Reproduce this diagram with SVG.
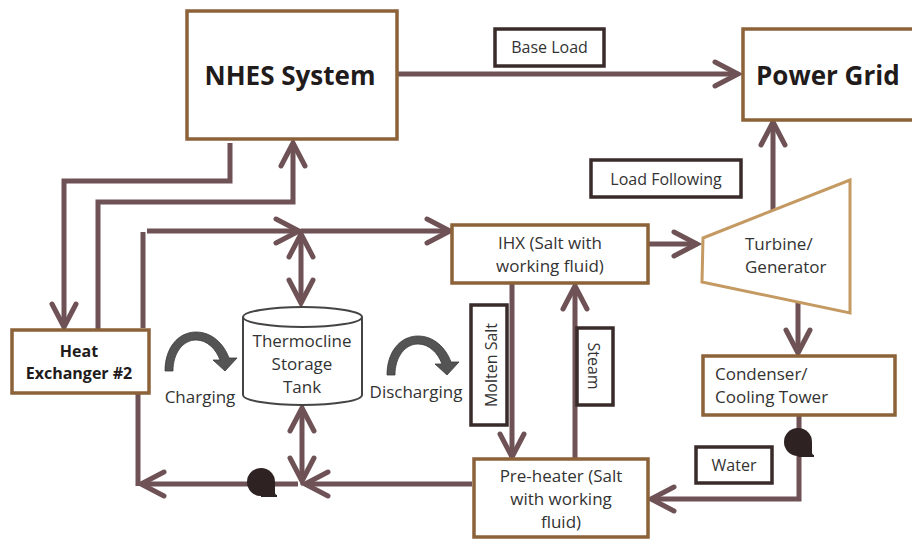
<svg xmlns="http://www.w3.org/2000/svg" width="912" height="540" viewBox="0 0 912 540">
  <style>
    .box { fill: #ffffff; stroke: #8C6239; stroke-width: 3.5; }
    .tag { fill: #ffffff; stroke: #3A2B2B; stroke-width: 3.5; }
    .turbine { fill: #ffffff; stroke: #C49A62; stroke-width: 3; }
    .tank { fill: #ffffff; stroke: #444444; stroke-width: 2; }
    .wire { fill: none; stroke: #6E5256; stroke-width: 5; stroke-linejoin: miter; }
    .arr { marker-end: url(#chev); }
    .both { marker-start: url(#chev); marker-end: url(#chev); }
    .t { font-family: "Open Sans", "Liberation Sans", sans-serif; font-size: 17px; fill: #333333; }
    .s { font-size: 16px; }
    .c { text-anchor: middle; }
    .b { font-weight: bold; fill: #221B1B; }
    .big { font-size: 26px; }
    .pump { fill: #2E2222; }
    .curl { fill: #545454; stroke: #3A3A3A; stroke-width: 0.8; }
  </style>
  <defs>
    <marker id="chev" viewBox="0 0 30 30" markerWidth="30" markerHeight="30" refX="25" refY="14" markerUnits="userSpaceOnUse" orient="auto-start-reverse" overflow="visible">
      <path d="M2,2 L25,14 L2,26" fill="none" stroke="#6E5256" stroke-width="5" stroke-linecap="round" stroke-linejoin="miter"/>
    </marker>
    <!-- circulating pump symbol, centred on 0,0 -->
    <g id="pumpSym">
      <circle cx="0" cy="0" r="14" class="pump"/>
      <path d="M0,0 H14 V10 Q14,13 16,13 V15 H0 Z" class="pump"/>
    </g>
    <!-- curved process arrow (charging / discharging) -->
    <path id="curl" class="curl" d="M165,371 C165,348 178,332 196,332 C212,332 224,344 229,358 L237,358 L225,371 L213,360 L220,360 C216,349 207,340 196,340 C183,340 173,353 173,371 Z"/>
  </defs>

  <!-- connectors -->
  <g id="connectors">
    <path class="wire arr" d="M397,74 H738"/>
    <path class="wire arr" d="M230,143 V181 H64 V327"/>
    <path class="wire arr" d="M98,330 V202 H293 V143"/>
    <path class="wire" d="M143,328 V232"/>
    <path class="wire arr" d="M147,231 H299"/>
    <path class="wire arr" d="M301,231 H450"/>
    <path class="wire both" d="M301,234 V303"/>
    <path class="wire both" d="M302,408 V481"/>
    <path class="wire arr" d="M472,484 H305"/>
    <path class="wire arr" d="M298,484 H141"/>
    <path class="wire" d="M138,393 V486"/>
    <path class="wire arr" d="M648,244 H697"/>
    <path class="wire arr" d="M773,210 V122"/>
    <path class="wire arr" d="M798,302 V353"/>
    <path class="wire arr" d="M512,283 V457"/>
    <path class="wire arr" d="M575,459 V286"/>
    <path class="wire arr" d="M799,415 V499 H651"/>
    <use href="#pumpSym" x="261" y="482"/>
    <use href="#pumpSym" x="798" y="442"/>
  </g>

  <g id="nhes">
    <rect class="box" x="187" y="11" width="210" height="128"/>
    <text class="t b big c" x="290" y="85">NHES System</text>
  </g>

  <g id="power-grid">
    <rect class="box" x="743" y="29" width="190" height="91"/>
    <text class="t b big" x="756" y="85">Power Grid</text>
  </g>

  <g id="base-load">
    <rect class="tag" x="495" y="29" width="109" height="37"/>
    <text class="t s c" x="549.5" y="53">Base Load</text>
  </g>

  <g id="load-following">
    <rect class="tag" x="591" y="160" width="150" height="37"/>
    <text class="t s c" x="666" y="185">Load Following</text>
  </g>

  <g id="ihx">
    <rect class="box" x="452" y="225" width="196" height="58"/>
    <text class="t c" x="550" y="249">IHX (Salt with</text>
    <text class="t c" x="550" y="272">working fluid)</text>
  </g>

  <g id="turbine">
    <polygon class="turbine" points="703,238 850,180 850,313 702,282"/>
    <text class="t" x="745" y="250">Turbine/</text>
    <text class="t" x="745" y="273">Generator</text>
  </g>

  <g id="condenser">
    <rect class="box" x="703" y="356" width="192" height="59"/>
    <text class="t" x="715" y="380">Condenser/</text>
    <text class="t" x="715" y="403">Cooling Tower</text>
  </g>

  <g id="water">
    <rect class="tag" x="696" y="447" width="76" height="36"/>
    <text class="t s c" x="734" y="471">Water</text>
  </g>

  <g id="pre-heater">
    <rect class="box" x="474" y="459" width="174" height="78"/>
    <text class="t c" x="561" y="482">Pre-heater (Salt</text>
    <text class="t c" x="561" y="505">with working</text>
    <text class="t c" x="561" y="528">fluid)</text>
  </g>

  <g id="molten-salt">
    <rect class="tag" x="471" y="305" width="36" height="120"/>
    <text class="t s c" transform="translate(497,365) rotate(-90)">Molten Salt</text>
  </g>

  <g id="steam">
    <rect class="tag" x="577" y="328" width="36" height="77"/>
    <text class="t s c" transform="translate(588,366) rotate(90)">Steam</text>
  </g>

  <g id="heat-exchanger-2">
    <rect class="box" x="12" y="330" width="137" height="63"/>
    <text class="t s b c" x="79" y="357">Heat</text>
    <text class="t s b c" x="79" y="379">Exchanger #2</text>
  </g>

  <g id="storage-tank">
    <path class="tank" d="M243,317 V395 A59.5,10 0 0 0 362,395 V317"/>
    <ellipse class="tank" cx="302.5" cy="317" rx="59.5" ry="10"/>
    <text class="t c" x="302" y="347">Thermocline</text>
    <text class="t c" x="302" y="370">Storage</text>
    <text class="t c" x="302" y="393">Tank</text>
  </g>

  <g id="charging">
    <use href="#curl"/>
    <text class="t c" x="200" y="403">Charging</text>
  </g>

  <g id="discharging">
    <use href="#curl" transform="translate(222,4)"/>
    <text class="t c" x="416" y="398">Discharging</text>
  </g>
</svg>
